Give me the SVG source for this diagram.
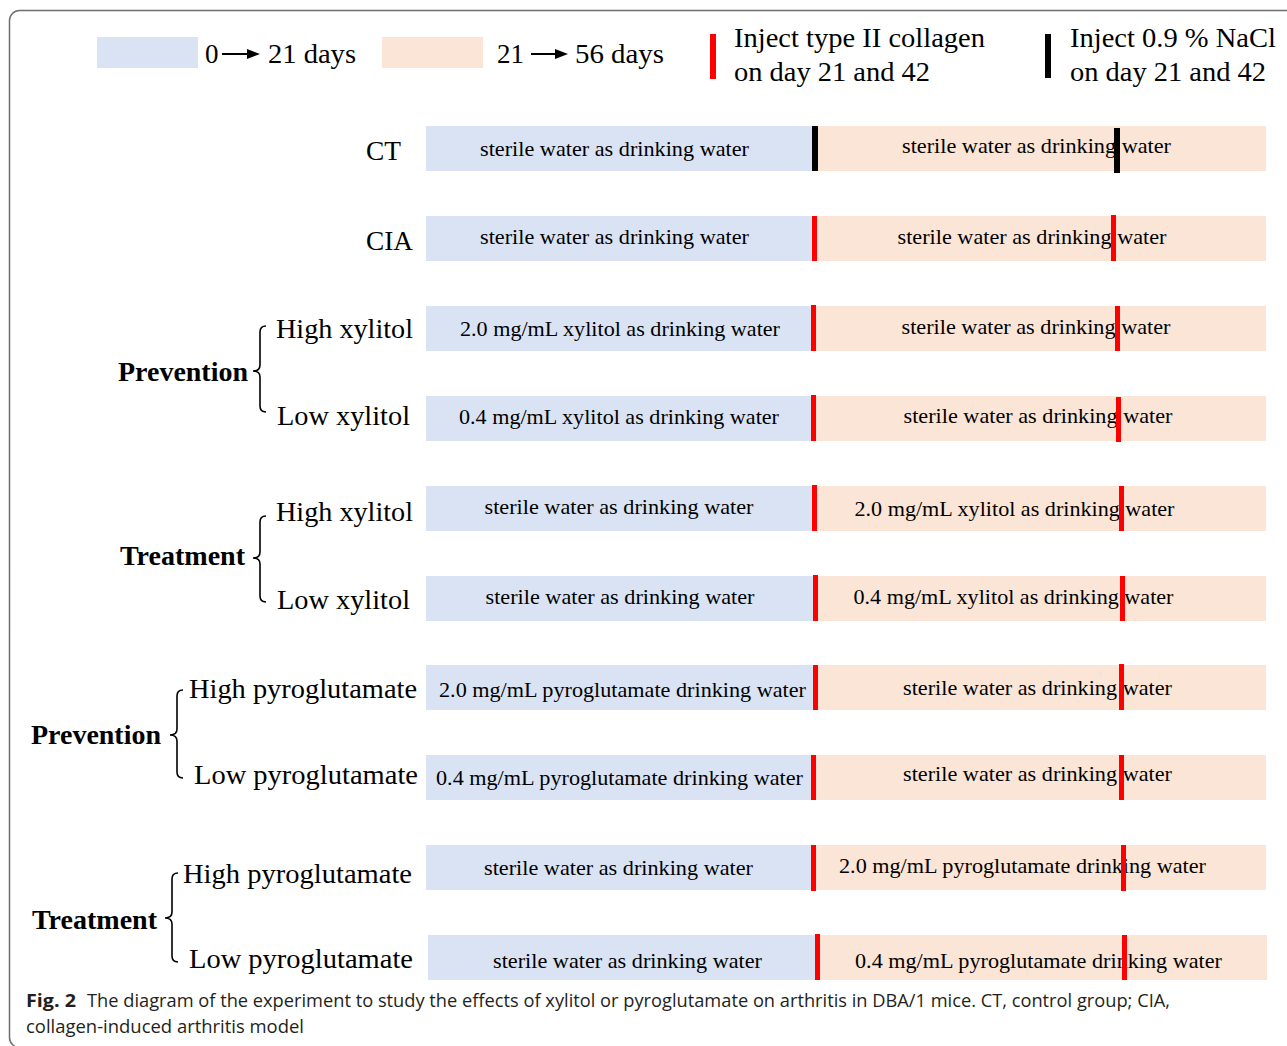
<svg xmlns="http://www.w3.org/2000/svg" width="1287" height="1046" viewBox="0 0 1287 1046">
<style>
.t{font-family:"Liberation Serif","Times New Roman",serif;fill:#000}
.lab{font-size:27px}
.grp{font-size:27px;font-weight:bold}
.bt{font-size:21px;text-anchor:middle}
.b1{fill:#dae3f3}
.b2{fill:#fbe5d6}
.mr{fill:#ff0000}
.mk{fill:#000}
.br{fill:none;stroke:#000;stroke-width:1.6}
.cap{font-family:"Open Sans","Noto Sans",sans-serif;font-size:18px;fill:#231f20}
</style>
<rect x="9.5" y="10.5" width="1300" height="1037" rx="10" fill="#fff" stroke="#6e6e6e" stroke-width="1.5"/>
<g id="legend">
<rect class="b1" x="97" y="37" width="101" height="31"/>
<text class="t lab" x="205" y="63">0</text>
<line x1="222" y1="54" x2="250" y2="54" stroke="#000" stroke-width="2"/>
<polygon points="247,49 260,54 247,59" fill="#000"/>
<text class="t lab" x="268" y="63" textLength="88" lengthAdjust="spacingAndGlyphs">21 days</text>
<rect class="b2" x="382" y="37" width="101" height="31"/>
<text class="t lab" x="497" y="63" textLength="27" lengthAdjust="spacingAndGlyphs">21</text>
<line x1="531" y1="54" x2="558" y2="54" stroke="#000" stroke-width="2"/>
<polygon points="555,49 568,54 555,59" fill="#000"/>
<text class="t lab" x="575" y="63" textLength="89" lengthAdjust="spacingAndGlyphs">56 days</text>
<rect class="mr" x="710" y="34" width="6" height="45"/>
<text class="t lab" x="734" y="47" textLength="251" lengthAdjust="spacingAndGlyphs">Inject type II collagen</text>
<text class="t lab" x="734" y="81" textLength="196" lengthAdjust="spacingAndGlyphs">on day 21 and 42</text>
<rect class="mk" x="1045" y="34" width="6" height="44"/>
<text class="t lab" x="1070" y="47" textLength="206" lengthAdjust="spacingAndGlyphs">Inject 0.9 % NaCl</text>
<text class="t lab" x="1070" y="81" textLength="196" lengthAdjust="spacingAndGlyphs">on day 21 and 42</text>
</g>
<g id="connectors">
<path class="br" d="M266,326 Q260,326 260,332 L260,365 Q260,371 253,371 Q260,371 260,377 L260,406 Q260,412 266,412"/>
<path class="br" d="M266,516 Q260,516 260,522 L260,552 Q260,558 253,558 Q260,558 260,564 L260,596 Q260,602 266,602"/>
<path class="br" d="M183,690 Q177,690 177,696 L177,729 Q177,735 170,735 Q177,735 177,741 L177,772 Q177,778 183,778"/>
<path class="br" d="M178,873 Q172,873 172,879 L172,912 Q172,918 165,918 Q172,918 172,924 L172,956 Q172,962 178,962"/>
</g>
<g id="group-labels">
<text class="t grp" x="118" y="381" textLength="130" lengthAdjust="spacingAndGlyphs">Prevention</text>
<text class="t grp" x="120" y="565" textLength="125" lengthAdjust="spacingAndGlyphs">Treatment</text>
<text class="t grp" x="31" y="744" textLength="130" lengthAdjust="spacingAndGlyphs">Prevention</text>
<text class="t grp" x="32" y="929" textLength="125" lengthAdjust="spacingAndGlyphs">Treatment</text>
</g>
<g id="row-ct">
<text class="t lab" x="366" y="160" textLength="35" lengthAdjust="spacingAndGlyphs">CT</text>
<rect class="b1" x="426" y="126" width="388" height="45"/>
<rect class="b2" x="814" y="126" width="452" height="45"/>
<text class="t bt" x="614.5" y="156" textLength="269" lengthAdjust="spacingAndGlyphs">sterile water as drinking water</text>
<text class="t bt" x="1036.5" y="153" textLength="269" lengthAdjust="spacingAndGlyphs">sterile water as drinking water</text>
<rect class="mk" x="812" y="126" width="6" height="45"/>
<rect class="mk" x="1114" y="128" width="6" height="45"/>
</g>
<g id="row-cia">
<text class="t lab" x="366" y="250" textLength="47" lengthAdjust="spacingAndGlyphs">CIA</text>
<rect class="b1" x="426" y="216" width="388" height="45"/>
<rect class="b2" x="814" y="216" width="452" height="45"/>
<text class="t bt" x="614.5" y="244" textLength="269" lengthAdjust="spacingAndGlyphs">sterile water as drinking water</text>
<text class="t bt" x="1032" y="244" textLength="269" lengthAdjust="spacingAndGlyphs">sterile water as drinking water</text>
<rect class="mr" x="812" y="216" width="5" height="45"/>
<rect class="mr" x="1111" y="215" width="5" height="46"/>
</g>
<g id="row-prev-high-xylitol">
<text class="t lab" x="276" y="338" textLength="137" lengthAdjust="spacingAndGlyphs">High xylitol</text>
<rect class="b1" x="426" y="306" width="388" height="45"/>
<rect class="b2" x="814" y="306" width="452" height="45"/>
<text class="t bt" x="620" y="336" textLength="320" lengthAdjust="spacingAndGlyphs">2.0 mg/mL xylitol as drinking water</text>
<text class="t bt" x="1036" y="334" textLength="269" lengthAdjust="spacingAndGlyphs">sterile water as drinking water</text>
<rect class="mr" x="811" y="305" width="5" height="46"/>
<rect class="mr" x="1115" y="306" width="5" height="45"/>
</g>
<g id="row-prev-low-xylitol">
<text class="t lab" x="277" y="425" textLength="133" lengthAdjust="spacingAndGlyphs">Low xylitol</text>
<rect class="b1" x="426" y="396" width="388" height="45"/>
<rect class="b2" x="814" y="396" width="452" height="45"/>
<text class="t bt" x="619" y="424" textLength="320" lengthAdjust="spacingAndGlyphs">0.4 mg/mL xylitol as drinking water</text>
<text class="t bt" x="1038" y="423" textLength="269" lengthAdjust="spacingAndGlyphs">sterile water as drinking water</text>
<rect class="mr" x="811" y="395" width="5" height="46"/>
<rect class="mr" x="1116" y="397" width="5" height="45"/>
</g>
<g id="row-treat-high-xylitol">
<text class="t lab" x="276" y="521" textLength="137" lengthAdjust="spacingAndGlyphs">High xylitol</text>
<rect class="b1" x="426" y="486" width="388" height="45"/>
<rect class="b2" x="814" y="486" width="452" height="45"/>
<text class="t bt" x="619" y="514" textLength="269" lengthAdjust="spacingAndGlyphs">sterile water as drinking water</text>
<text class="t bt" x="1014.5" y="516" textLength="320" lengthAdjust="spacingAndGlyphs">2.0 mg/mL xylitol as drinking water</text>
<rect class="mr" x="812" y="485" width="5" height="46"/>
<rect class="mr" x="1119" y="486" width="5" height="45"/>
</g>
<g id="row-treat-low-xylitol">
<text class="t lab" x="277" y="609" textLength="133" lengthAdjust="spacingAndGlyphs">Low xylitol</text>
<rect class="b1" x="426" y="576" width="388" height="45"/>
<rect class="b2" x="814" y="576" width="452" height="45"/>
<text class="t bt" x="620" y="604" textLength="269" lengthAdjust="spacingAndGlyphs">sterile water as drinking water</text>
<text class="t bt" x="1013.5" y="604" textLength="320" lengthAdjust="spacingAndGlyphs">0.4 mg/mL xylitol as drinking water</text>
<rect class="mr" x="813" y="575" width="5" height="46"/>
<rect class="mr" x="1120" y="576" width="5" height="45"/>
</g>
<g id="row-prev-high-pyro">
<text class="t lab" x="189" y="698" textLength="228" lengthAdjust="spacingAndGlyphs">High pyroglutamate</text>
<rect class="b1" x="426" y="665" width="390" height="45"/>
<rect class="b2" x="816" y="665" width="450" height="45"/>
<text class="t bt" x="622.5" y="697" textLength="367" lengthAdjust="spacingAndGlyphs">2.0 mg/mL pyroglutamate drinking water</text>
<text class="t bt" x="1037.5" y="695" textLength="269" lengthAdjust="spacingAndGlyphs">sterile water as drinking water</text>
<rect class="mr" x="813" y="665" width="5" height="45"/>
<rect class="mr" x="1119" y="664" width="5" height="46"/>
</g>
<g id="row-prev-low-pyro">
<text class="t lab" x="194" y="784" textLength="224" lengthAdjust="spacingAndGlyphs">Low pyroglutamate</text>
<rect class="b1" x="426" y="755" width="388" height="45"/>
<rect class="b2" x="814" y="755" width="452" height="45"/>
<text class="t bt" x="619.5" y="785" textLength="367" lengthAdjust="spacingAndGlyphs">0.4 mg/mL pyroglutamate drinking water</text>
<text class="t bt" x="1037.5" y="781" textLength="269" lengthAdjust="spacingAndGlyphs">sterile water as drinking water</text>
<rect class="mr" x="811" y="755" width="5" height="45"/>
<rect class="mr" x="1119" y="755" width="5" height="45"/>
</g>
<g id="row-treat-high-pyro">
<text class="t lab" x="183" y="883" textLength="229" lengthAdjust="spacingAndGlyphs">High pyroglutamate</text>
<rect class="b1" x="426" y="845" width="388" height="45"/>
<rect class="b2" x="814" y="845" width="452" height="45"/>
<text class="t bt" x="618.5" y="875" textLength="269" lengthAdjust="spacingAndGlyphs">sterile water as drinking water</text>
<text class="t bt" x="1022.5" y="873" textLength="367" lengthAdjust="spacingAndGlyphs">2.0 mg/mL pyroglutamate drinking water</text>
<rect class="mr" x="811" y="845" width="5" height="46"/>
<rect class="mr" x="1121" y="845" width="5" height="46"/>
</g>
<g id="row-treat-low-pyro">
<text class="t lab" x="189" y="968" textLength="224" lengthAdjust="spacingAndGlyphs">Low pyroglutamate</text>
<rect class="b1" x="428" y="935" width="390" height="45"/>
<rect class="b2" x="818" y="935" width="449" height="45"/>
<text class="t bt" x="627.5" y="968" textLength="269" lengthAdjust="spacingAndGlyphs">sterile water as drinking water</text>
<text class="t bt" x="1038.5" y="968" textLength="367" lengthAdjust="spacingAndGlyphs">0.4 mg/mL pyroglutamate drinking water</text>
<rect class="mr" x="815" y="934" width="5" height="46"/>
<rect class="mr" x="1122" y="935" width="5" height="45"/>
</g>
<g id="caption">
<text class="cap" x="26" y="1007" textLength="50" lengthAdjust="spacingAndGlyphs"><tspan font-weight="bold">Fig. 2</tspan></text>
<text class="cap" x="87" y="1007" textLength="1083" lengthAdjust="spacingAndGlyphs">The diagram of the experiment to study the effects of xylitol or pyroglutamate on arthritis in DBA/1 mice. CT, control group; CIA,</text>
<text class="cap" x="26" y="1033" textLength="278" lengthAdjust="spacingAndGlyphs">collagen-induced arthritis model</text>
</g>
</svg>
